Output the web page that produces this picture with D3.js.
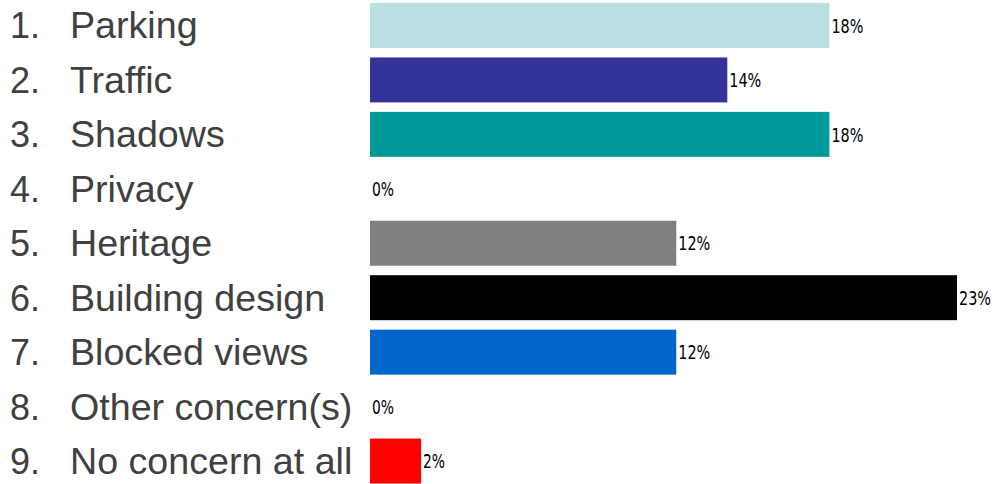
<!DOCTYPE html>
<html>
<head>
<meta charset="utf-8">
<script src="https://cdn.jsdelivr.net/npm/d3@7"></script>
<style>
  html, body { margin: 0; padding: 0; background: #ffffff; }
  svg { display: block; }
</style>
</head>
<body>
<svg id="chart" width="995" height="484"></svg>
<script>
// Survey responses: main concern about the development
const categories = ["Parking", "Traffic", "Shadows", "Privacy", "Heritage",
  "Building design", "Blocked views", "Other concern(s)", "No concern at all"];
const percentages = [18, 14, 18, 0, 12, 23, 12, 0, 2];
const barColors = ["#bae0e3", "#333399", "#009999", "#7f7f7f", "#808080",
  "#000000", "#0066cc", "#999999", "#ff0000"];

const svg = d3.select("#chart");
const barLeft = 370;

const rows = categories.map((c, i) => ({ label: c, num: (i + 1) + ".", value: percentages[i], color: barColors[i] }));

const x = d3.scaleLinear()
  .domain([0, d3.max(percentages)])
  .range([barLeft, 957]);

const y = d3.scaleBand()
  .domain(categories)
  .range([3, 483.5])
  .paddingInner(0.174)
  .paddingOuter(0)
  .align(0);

// bars
svg.append("g")
  .selectAll("rect")
  .data(rows)
  .join("rect")
  .attr("x", x(0))
  .attr("y", d => y(d.label))
  .attr("width", d => x(d.value) - x(0))
  .attr("height", y.bandwidth())
  .attr("fill", d => d.color);

// value labels at the end of each bar, squeezed into a narrow set width
svg.append("g")
  .selectAll("text")
  .data(rows)
  .join("text")
  .attr("x", 0)
  .attr("y", 0)
  .attr("dy", "0.36em")
  .attr("font-family", "'DejaVu Sans Condensed', 'DejaVu Sans', sans-serif")
  .attr("font-stretch", "condensed")
  .attr("font-size", 20)
  .attr("fill", "#000000")
  .text(d => d.value + "%")
  .each(function (d) {
    const natural = this.getComputedTextLength();
    const target = String(d.value).length * 10 + 12;
    const sx = target / natural;
    d3.select(this).attr("transform",
      `translate(${x(d.value) + 2},${y(d.label) + y.bandwidth() / 2}) scale(${sx},1)`);
  });

// numbered category labels
const labels = svg.append("g")
  .attr("font-family", "'Liberation Sans', Arial, sans-serif")
  .attr("font-size", 36)
  .attr("fill", "#404040");

labels.selectAll("text.num")
  .data(rows)
  .join("text")
  .attr("class", "num")
  .attr("x", 10)
  .attr("y", d => y(d.label) + y.bandwidth() / 2)
  .attr("dy", "0.36em")
  .text(d => d.num);

labels.selectAll("text.cat")
  .data(rows)
  .join("text")
  .attr("class", "cat")
  .attr("x", 70)
  .attr("y", d => y(d.label) + y.bandwidth() / 2)
  .attr("dy", "0.36em")
  .text(d => d.label)
  .each(function () {
    // a touch wider than the face's natural set width
    const w = this.getComputedTextLength();
    d3.select(this).attr("textLength", w * 1.045).attr("lengthAdjust", "spacingAndGlyphs");
  });
</script>
</body>
</html>
